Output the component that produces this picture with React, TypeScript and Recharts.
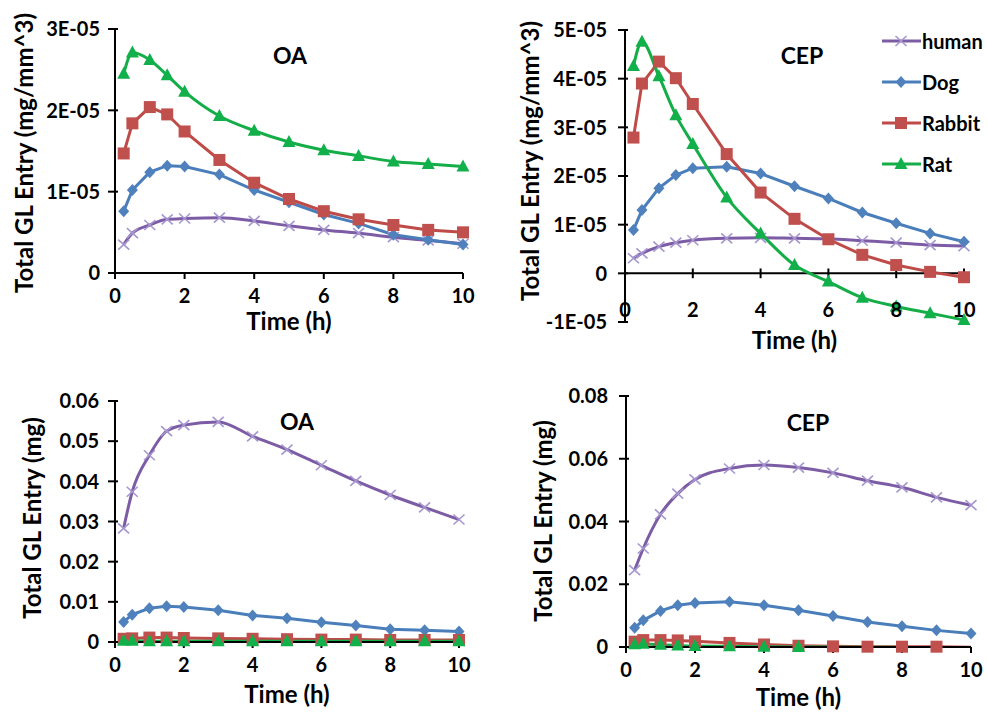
import { LineChart, Line, XAxis, YAxis, Legend, ReferenceLine } from 'recharts'

const TIME = [0.25, 0.5, 1, 1.5, 2, 3, 4, 5, 6, 7, 8, 9, 10]
const X_TICKS = [0, 2, 4, 6, 8, 10]
const SPECIES = ['human', 'Dog', 'Rabbit', 'Rat']

// OA, entry per volume (mg/mm^3)
const OA_VOL_HUMAN = [3.5e-6, 4.9e-6, 5.9e-6, 6.6e-6, 6.7e-6, 6.8e-6, 6.4e-6, 5.8e-6, 5.3e-6, 4.9e-6, 4.4e-6, 4.0e-6, 3.6e-6]
const OA_VOL_DOG = [7.6e-6, 10.2e-6, 12.4e-6, 13.2e-6, 13.1e-6, 12.1e-6, 10.2e-6, 8.7e-6, 7.2e-6, 6.1e-6, 4.7e-6, 4.1e-6, 3.5e-6]
const OA_VOL_RABBIT = [14.7e-6, 18.4e-6, 20.4e-6, 19.5e-6, 17.4e-6, 13.9e-6, 11.1e-6, 9.1e-6, 7.6e-6, 6.6e-6, 5.9e-6, 5.3e-6, 5.0e-6]
const OA_VOL_RAT = [24.5e-6, 27.1e-6, 26.2e-6, 24.3e-6, 22.3e-6, 19.3e-6, 17.5e-6, 16.1e-6, 15.1e-6, 14.4e-6, 13.7e-6, 13.4e-6, 13.1e-6]

// CEP, entry per volume (mg/mm^3)
const CEP_VOL_HUMAN = [3.1e-6, 4.1e-6, 5.5e-6, 6.3e-6, 6.8e-6, 7.2e-6, 7.3e-6, 7.2e-6, 7.1e-6, 6.7e-6, 6.3e-6, 5.8e-6, 5.6e-6]
const CEP_VOL_DOG = [8.9e-6, 13.0e-6, 17.5e-6, 20.2e-6, 21.6e-6, 21.9e-6, 20.5e-6, 17.9e-6, 15.4e-6, 12.5e-6, 10.3e-6, 8.2e-6, 6.5e-6]
const CEP_VOL_RABBIT = [27.9e-6, 39.0e-6, 43.5e-6, 40.1e-6, 34.8e-6, 24.5e-6, 16.6e-6, 11.2e-6, 7.0e-6, 3.8e-6, 1.7e-6, 0.3e-6, -0.8e-6]
const CEP_VOL_RAT = [42.6e-6, 47.6e-6, 40.5e-6, 32.5e-6, 26.6e-6, 15.6e-6, 8.2e-6, 1.7e-6, -1.7e-6, -5.0e-6, -6.8e-6, -8.2e-6, -9.6e-6]

// OA, total entry (mg)
const OA_MG_HUMAN = [0.0283, 0.0374, 0.0465, 0.0525, 0.054, 0.0548, 0.0512, 0.0479, 0.044, 0.0401, 0.0366, 0.0335, 0.0305]
const OA_MG_DOG = [0.005, 0.0068, 0.0084, 0.0089, 0.0087, 0.0079, 0.0066, 0.0059, 0.0049, 0.0041, 0.0032, 0.0029, 0.0026]
const OA_MG_RABBIT = [0.0008, 0.0009, 0.0011, 0.0011, 0.001, 0.0009, 0.0008, 0.0007, 0.0006, 0.0006, 0.0005, 0.0005, 0.0005]
const OA_MG_RAT = [0.0003, 0.0003, 0.0002, 0.0002, 0.0002, 0.0002, 0.0002, 0.0002, 0.0002, 0.0002, 0.0002, 0.0002, 0.0002]

// CEP, total entry (mg)
const CEP_MG_HUMAN = [0.0245, 0.0314, 0.0423, 0.0489, 0.0534, 0.0569, 0.058, 0.0572, 0.0555, 0.053, 0.0509, 0.0477, 0.0452]
const CEP_MG_DOG = [0.0061, 0.0085, 0.0115, 0.0133, 0.014, 0.0144, 0.0133, 0.0117, 0.0099, 0.008, 0.0066, 0.0053, 0.0043]
const CEP_MG_RABBIT = [0.0017, 0.0022, 0.0022, 0.0021, 0.0018, 0.0013, 0.0008, 0.0004, 0.0002, 0.0001, 0.0001, 0.0001, -0.00004]
const CEP_MG_RAT = [0.0009, 0.001, 0.0007, 0.0005, 0.0003, 0.0002, 0.0001, 0.00002, -0.00002, -0.0001, -0.00012, -0.00015, -0.00017]

const VOL_TICKS_OA = [0, 1e-5, 2e-5, 3e-5]
const VOL_TICKS_CEP = [-1e-5, 0, 1e-5, 2e-5, 3e-5, 4e-5, 5e-5]
const MG_TICKS_OA = [0, 0.01, 0.02, 0.03, 0.04, 0.05, 0.06]
const MG_TICKS_CEP = [0, 0.02, 0.04, 0.06, 0.08]

const FONT = 'Lato, "Open Sans", sans-serif'
const LINE_COLOR: Record<string, string> = { human: '#7d5ca6', Dog: '#4a7ebb', Rabbit: '#be4b48', Rat: '#14ad47' }
const CURVE: Record<string, 'monotone' | 'linear'> = { human: 'monotone', Dog: 'linear', Rabbit: 'linear', Rat: 'monotone' }

const fmtE = (v: number) => (v === 0 ? '0' : `${Math.round(v * 1e5)}E-05`)
const fmtMg = (v: number) => (v === 0 ? '0' : v.toFixed(2))

function Marker({ kind, cx, cy }: { kind: string; cx: number; cy: number }) {
  if (kind === 'human') {
    return (
      <g stroke="#a596cf" strokeWidth={1.6}>
        <line x1={cx - 5.5} y1={cy - 5} x2={cx + 5.5} y2={cy + 5} />
        <line x1={cx - 5.5} y1={cy + 5} x2={cx + 5.5} y2={cy - 5} />
      </g>
    )
  }
  if (kind === 'Dog') {
    return <polygon points={`${cx},${cy - 6} ${cx + 5.5},${cy} ${cx},${cy + 6} ${cx - 5.5},${cy}`} fill="#4f81bd" />
  }
  if (kind === 'Rabbit') {
    return <rect x={cx - 6} y={cy - 6} width={12} height={12} fill="#c0504d" />
  }
  return <polygon points={`${cx},${cy - 7} ${cx + 6.5},${cy + 5} ${cx - 6.5},${cy + 5}`} fill="#12b04a" />
}

const dotFor = (kind: string) => (p: any) => {
  if (p.cx == null || p.cy == null || p.value == null) return <g key={`d-${p.index}`} />
  return <Marker key={`d-${p.index}`} kind={kind} cx={p.cx} cy={p.cy} />
}

function buildRows(values: Record<string, number[]>, floor: number) {
  return TIME.map((t, i) => {
    const row: Record<string, number | null> = { t }
    SPECIES.forEach((s) => {
      const v = values[s][i]
      row[s] = v
      row[s + '_dot'] = v < floor ? null : v
    })
    return row
  })
}

// keep the legend in series order, not alphabetical
const legendContent = () => (
  <div style={{ fontFamily: FONT, fontWeight: 700, fontSize: 20, color: '#000' }}>
    {SPECIES.map((s) => (
      <div key={s} style={{ display: 'flex', alignItems: 'center', height: 41 }}>
        <svg width={39} height={20}>
          <line x1={0} y1={10} x2={39} y2={10} stroke={LINE_COLOR[s]} strokeWidth={3} />
          <Marker kind={s} cx={19} cy={10} />
        </svg>
        <span style={{ marginLeft: 1 }}>{s}</span>
      </div>
    ))}
  </div>
)

const axisText = { fill: '#000', fontSize: 20, fontWeight: 700, fontFamily: FONT }

const zeroAxisTick = (p: any) => (
  <text x={p.x} y={p.y - 5} textAnchor="middle" {...axisText}>
    {p.payload.value}
  </text>
)

// Excel style crossing tick plus label, drawn from the axis position
const yTickFor = (gap: number, format: (v: number) => string) => (p: any) => (
  <g>
    <path d={`M${p.x - 7},${p.y}H${p.x + 3}`} stroke="#000" strokeWidth={2} fill="none" />
    <text x={p.x - gap} y={p.y} dy="0.36em" textAnchor="end" {...axisText}>
      {format(p.payload.value)}
    </text>
  </g>
)

type PanelProps = {
  left: number
  top: number
  width: number
  height: number
  margin: { top: number; right: number; bottom: number; left: number }
  yWidth: number
  yGap: number
  xHeight: number
  xLabelOffset: number
  domain: [number, number]
  yTicks: number[]
  yFormat: (v: number) => string
  yLabel: string
  yLabelAt: [number, number]
  title: string
  titleAt: [number, number]
  values: Record<string, number[]>
  zeroAxis?: boolean
  clip?: boolean
  legend?: boolean
}

function Panel(props: PanelProps) {
  const { left, top, width, height, margin, domain, clip, zeroAxis } = props
  const rows = buildRows(props.values, clip ? domain[0] : -Infinity)
  // plot box of this panel, used only for the vertical axis rule drawn above the chart
  const plotLeft = margin.left + props.yWidth
  const plotTop = margin.top
  const plotBottom = height - margin.bottom - props.xHeight
  return (
    <div style={{ position: 'absolute', left, top, width, height }}>
      <div
        style={{
          position: 'absolute',
          left: props.titleAt[0],
          top: props.titleAt[1],
          transform: 'translate(-50%, -50%)',
          fontFamily: FONT,
          fontWeight: 700,
          fontSize: 23,
          whiteSpace: 'nowrap',
        }}
      >
        {props.title}
      </div>
      <div
        style={{
          position: 'absolute',
          left: props.yLabelAt[0],
          top: props.yLabelAt[1],
          transform: 'translate(-50%, -50%) rotate(-90deg)',
          fontFamily: FONT,
          fontWeight: 700,
          fontSize: 24,
          whiteSpace: 'nowrap',
        }}
      >
        {props.yLabel}
      </div>
      <div style={{ position: 'absolute', left: 0, top: 0, zIndex: 1 }}>
        <LineChart width={width} height={height} data={rows} margin={margin}>
          <XAxis
            dataKey="t"
            type="number"
            domain={[0, 10]}
            ticks={X_TICKS}
            height={props.xHeight}
            axisLine={zeroAxis ? false : { stroke: '#000', strokeWidth: 2 }}
            tickLine={zeroAxis ? false : { stroke: '#000', strokeWidth: 2 }}
            tickSize={zeroAxis ? 0 : 6}
            tickMargin={zeroAxis ? 0 : 10}
            tick={zeroAxis ? zeroAxisTick : axisText}
            label={{
              value: 'Time (h)',
              position: 'insideBottom',
              offset: props.xLabelOffset,
              fill: '#000',
              fontSize: 24,
              fontWeight: 700,
              fontFamily: FONT,
            }}
          />
          {/* markers of a clipped panel live on an unclipped twin axis, so they are not cut at the bottom edge */}
          {clip && (
            <YAxis
              yAxisId="dots"
              orientation="right"
              width={0}
              domain={domain}
              ticks={props.yTicks}
              axisLine={false}
              tickLine={false}
              tick={false}
            />
          )}
          <YAxis
            yAxisId="main"
            width={props.yWidth}
            domain={domain}
            ticks={props.yTicks}
            allowDataOverflow={!!clip}
            axisLine={{ stroke: '#000', strokeWidth: 2 }}
            tickLine={false}
            tickSize={0}
            tickMargin={0}
            tick={yTickFor(props.yGap, props.yFormat)}
          />
          <ReferenceLine
            yAxisId="main"
            segment={[
              { x: 0, y: domain[0] },
              { x: 0, y: domain[1] },
            ]}
            stroke="#000"
            strokeWidth={2}
          />
          {zeroAxis && <ReferenceLine yAxisId="main" y={0} stroke="#000" strokeWidth={2} />}
          {zeroAxis &&
            X_TICKS.filter((t) => t > 0).map((t) => (
              <ReferenceLine
                key={t}
                yAxisId="main"
                segment={[
                  { x: t, y: -1e-6 },
                  { x: t, y: 1e-6 },
                ]}
                stroke="#000"
                strokeWidth={2}
              />
            ))}
          {SPECIES.map((s) => (
            <Line
              key={s}
              yAxisId="main"
              dataKey={s}
              name={s}
              type={CURVE[s]}
              stroke={LINE_COLOR[s]}
              strokeWidth={3}
              dot={clip ? false : dotFor(s)}
              activeDot={false}
              isAnimationActive={false}
            />
          ))}
          {clip &&
            SPECIES.map((s) => (
              <Line
                key={s + '_dot'}
                yAxisId="dots"
                dataKey={s + '_dot'}
                stroke="none"
                legendType="none"
                dot={dotFor(s)}
                activeDot={false}
                isAnimationActive={false}
              />
            ))}
          {props.legend && (
            <Legend
              layout="vertical"
              align="center"
              verticalAlign="middle"
              content={legendContent}
              wrapperStyle={{ left: 388, top: 20, width: 105 }}
            />
          )}
        </LineChart>
      </div>
      {/* vertical axis rule on top of the chart */}
      <div
        style={{
          position: 'absolute',
          zIndex: 2,
          left: plotLeft - 1,
          top: plotTop,
          width: 2,
          height: plotBottom - plotTop + 1,
          background: '#000',
        }}
      />
    </div>
  )
}

export default function App() {
  return (
    <div style={{ position: 'absolute', left: 0, top: 0, width: 987, height: 713, background: '#fff' }}>
      <Panel
        left={0}
        top={0}
        width={494}
        height={340}
        margin={{ top: 29, right: 31, bottom: 0, left: 0 }}
        yWidth={115}
        yGap={15}
        xHeight={67}
        xLabelOffset={10}
        domain={[0, 3e-5]}
        yTicks={VOL_TICKS_OA}
        yFormat={fmtE}
        yLabel="Total GL Entry (mg/mm^3)"
        yLabelAt={[23, 153]}
        title="OA"
        titleAt={[290, 55]}
        values={{ human: OA_VOL_HUMAN, Dog: OA_VOL_DOG, Rabbit: OA_VOL_RABBIT, Rat: OA_VOL_RAT }}
      />
      <Panel
        left={494}
        top={0}
        width={493}
        height={360}
        margin={{ top: 30, right: 23, bottom: 0, left: 0 }}
        yWidth={131}
        yGap={18}
        xHeight={38}
        xLabelOffset={11}
        domain={[-1e-5, 5e-5]}
        yTicks={VOL_TICKS_CEP}
        yFormat={fmtE}
        yLabel="Total GL Entry (mg/mm^3)"
        yLabelAt={[35, 161]}
        title="CEP"
        titleAt={[308, 55]}
        values={{ human: CEP_VOL_HUMAN, Dog: CEP_VOL_DOG, Rabbit: CEP_VOL_RABBIT, Rat: CEP_VOL_RAT }}
        zeroAxis
        legend
      />
      <Panel
        left={0}
        top={360}
        width={494}
        height={353}
        margin={{ top: 41, right: 35, bottom: 0, left: 0 }}
        yWidth={115}
        yGap={16}
        xHeight={71}
        xLabelOffset={10}
        domain={[0, 0.06]}
        yTicks={MG_TICKS_OA}
        yFormat={fmtMg}
        yLabel="Total GL Entry (mg)"
        yLabelAt={[31, 158]}
        title="OA"
        titleAt={[297, 61]}
        values={{ human: OA_MG_HUMAN, Dog: OA_MG_DOG, Rabbit: OA_MG_RABBIT, Rat: OA_MG_RAT }}
      />
      <Panel
        left={494}
        top={360}
        width={493}
        height={353}
        margin={{ top: 36, right: 16, bottom: 0, left: 0 }}
        yWidth={132}
        yGap={18}
        xHeight={66}
        xLabelOffset={7}
        domain={[0, 0.08]}
        yTicks={MG_TICKS_CEP}
        yFormat={fmtMg}
        yLabel="Total GL Entry (mg)"
        yLabelAt={[48, 161]}
        title="CEP"
        titleAt={[314, 62]}
        values={{ human: CEP_MG_HUMAN, Dog: CEP_MG_DOG, Rabbit: CEP_MG_RABBIT, Rat: CEP_MG_RAT }}
        clip
      />
    </div>
  )
}
